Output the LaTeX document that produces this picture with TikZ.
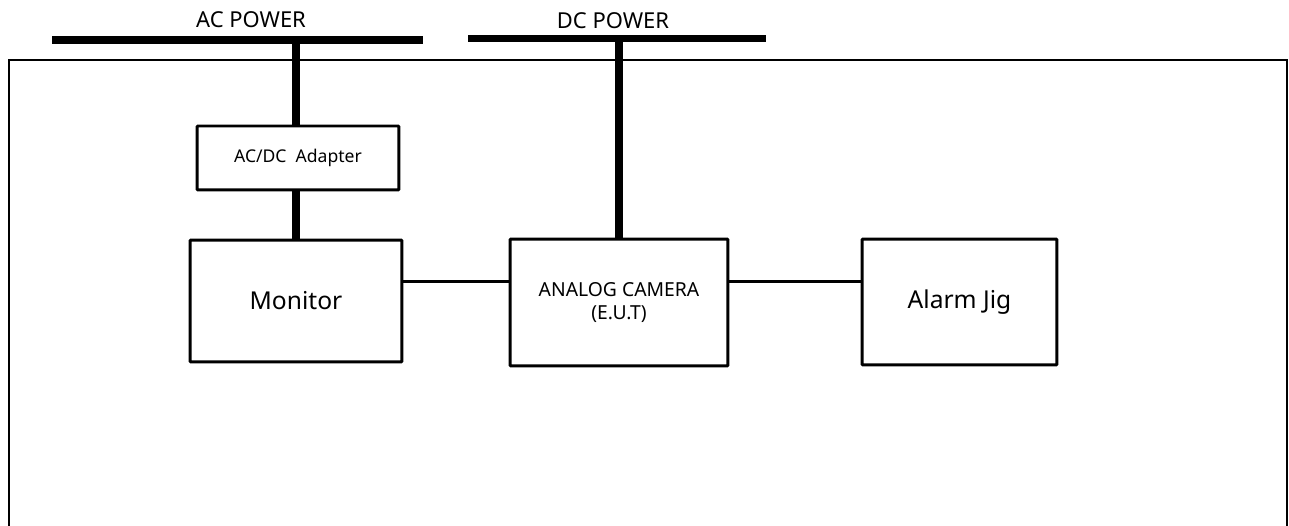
\documentclass[tikz,border=0pt]{standalone}
\usepackage{fontspec}
\setmainfont{Noto Sans}
\usepackage{tikz}
\usetikzlibrary{positioning, calc}

\begin{document}
\begin{tikzpicture}[
  x=0.02cm, y=-0.02cm,
  unitbox/.style={draw, line width=1.7pt, rounded corners=0.5pt,
                  align=center, inner sep=0pt},
  powerbar/.style={line width=4pt},
  feedline/.style={line width=4pt},
  signalline/.style={line width=1.8pt},
  framebox/.style={line width=1.5pt},
  barlabel/.style={font=\fontsize{12.5}{14}\selectfont, inner sep=0pt}
]
\useasboundingbox (0,0) rectangle (1289,526);

% Test room frame
\draw[framebox] (9,530) -- (9,60) -- (1287,60) -- (1287,530);

% Power bars
\coordinate (acL) at (52,40);
\coordinate (acR) at (423,40);
\coordinate (dcL) at (468,38.5);
\coordinate (dcR) at (766,38.5);
\draw[powerbar] (acL) -- (acR);
\draw[powerbar] (dcL) -- (dcR);
\node[barlabel] (aclabel) at (251,20) {AC POWER};
\node[barlabel] (dclabel) at (613,21) {DC POWER};

% Equipment
\node[unitbox, font=\fontsize{10}{12}\selectfont] (adapter) at (298,158)
      [minimum width=4.04cm, minimum height=1.28cm] {AC/DC\ \ Adapter};
\node[unitbox, font=\fontsize{14}{16}\selectfont] (monitor) at (296,301)
      [minimum width=4.24cm, minimum height=2.44cm] {Monitor};
\node[unitbox, font=\fontsize{11}{13.6}\selectfont] (camera) at (619,302.5)
      [minimum width=4.36cm, minimum height=2.54cm] {ANALOG CAMERA\\(E.U.T)};
\node[unitbox, font=\fontsize{14}{16}\selectfont] (alarm) at (959.5,302)
      [minimum width=3.9cm, minimum height=2.52cm] {Alarm Jig};

% Connections
\coordinate (acdrop) at (monitor.north |- acL);
\coordinate (dcdrop) at (camera.north |- dcL);
\coordinate (sigrow) at ($(camera.west)+(0,-21)$);
\draw[feedline] (acdrop) -- (adapter.north -| acdrop);
\draw[feedline] (adapter.south -| acdrop) -- (monitor.north);
\draw[feedline] (dcdrop) -- (camera.north);
\draw[signalline] (monitor.east |- sigrow) -- (sigrow);
\draw[signalline] (camera.east |- sigrow) -- (alarm.west |- sigrow);

\end{tikzpicture}
\end{document}
